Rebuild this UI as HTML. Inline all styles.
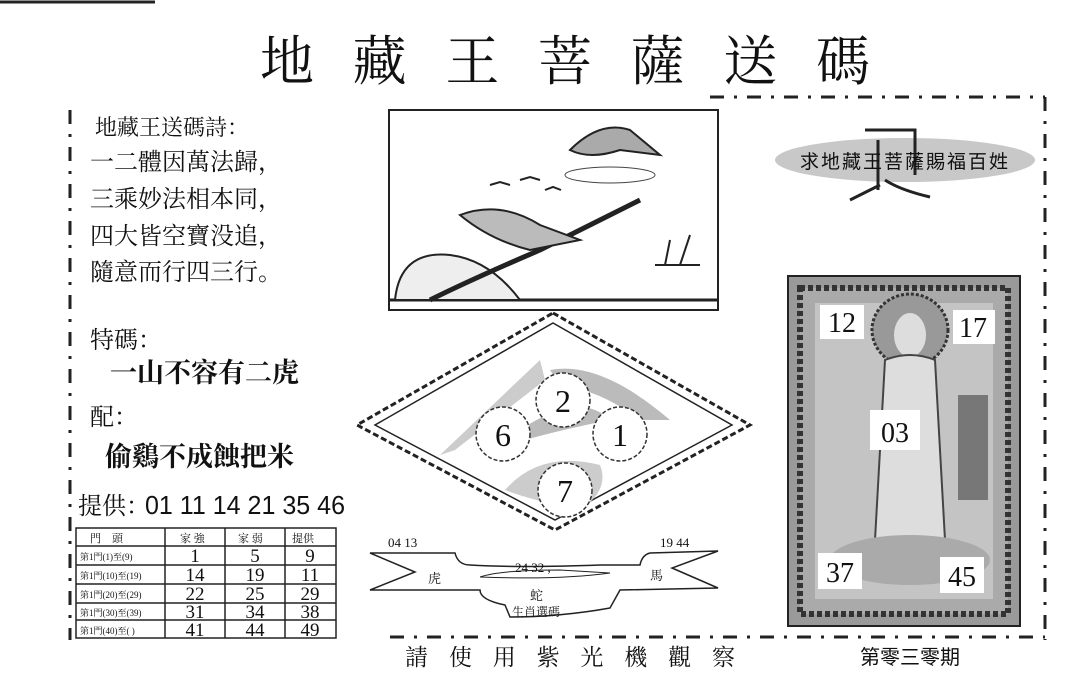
<!DOCTYPE html>
<html><head><meta charset="utf-8"><style>
html,body{margin:0;padding:0;background:#fff;}
svg{display:block;}
text{font-family:"Liberation Serif","Noto Serif CJK SC","Noto Sans CJK TC",serif;fill:#111;}
.s{font-family:"Liberation Sans","Noto Sans CJK TC",sans-serif;}
</style></head><body>
<svg width="1080" height="698" viewBox="0 0 1080 698" xmlns="http://www.w3.org/2000/svg">
<rect width="1080" height="698" fill="#fff"/>
<line x1="0" y1="2" x2="155" y2="2" stroke="#222" stroke-width="3"/>
<!-- title -->
<text x="565" y="80" font-size="54" text-anchor="middle" textLength="610" lengthAdjust="spacing" fill="#444">地藏王菩薩送碼</text>
<!-- borders -->
<g stroke="#222" stroke-width="3" fill="none">
<line x1="70" y1="110" x2="70" y2="640" stroke-dasharray="14,10,3,10"/>
<line x1="710" y1="97" x2="1045" y2="97" stroke-dasharray="14,10,3,10"/>
<line x1="1045" y1="97" x2="1045" y2="640" stroke-dasharray="14,10,3,10"/>
<line x1="390" y1="637" x2="1045" y2="637" stroke-dasharray="14,10,3,10"/>
</g>
<!-- poem -->
<g font-size="24">
<text x="95" y="135" font-size="22">地藏王送碼詩：</text>
<text x="90" y="170">一二體因萬法歸，</text>
<text x="90" y="207">三乘妙法相本同，</text>
<text x="90" y="244">四大皆空寶没追，</text>
<text x="90" y="280">隨意而行四三行。</text>
<text x="90" y="348">特碼：</text>
<text x="110" y="382" font-size="27" font-weight="bold">一山不容有二虎</text>
<text x="90" y="425">配：</text>
<text x="105" y="466" font-size="27" font-weight="bold">偷鷄不成蝕把米</text>
<text x="78" y="514">提供：</text>
</g>
<text x="145" y="514" font-size="26" class="s" textLength="200" lengthAdjust="spacingAndGlyphs">01 11 14 21 35 46</text>
<!-- table -->
<g stroke="#222" stroke-width="1.5" fill="none">
<rect x="76" y="528" width="260" height="110"/>
<line x1="76" y1="546" x2="336" y2="546"/>
<line x1="76" y1="565" x2="336" y2="565"/>
<line x1="76" y1="584" x2="336" y2="584"/>
<line x1="76" y1="603" x2="336" y2="603"/>
<line x1="76" y1="620" x2="336" y2="620"/>
<line x1="165" y1="528" x2="165" y2="638"/>
<line x1="225" y1="528" x2="225" y2="638"/>
<line x1="285" y1="528" x2="285" y2="638"/>
</g>
<g font-size="11" class="s">
<text x="90" y="542">門　頭</text><text x="180" y="542">家 強</text><text x="238" y="542">家 弱</text><text x="292" y="542">提供</text>
<text x="80" y="560" font-size="9">第1門(1)至(9)</text>
<text x="80" y="579" font-size="9">第1門(10)至(19)</text>
<text x="80" y="598" font-size="9">第1門(20)至(29)</text>
<text x="80" y="616" font-size="9">第1門(30)至(39)</text>
<text x="80" y="634" font-size="9">第1門(40)至(  )</text>
</g>
<g font-size="19" text-anchor="middle">
<text x="195" y="562">1</text><text x="255" y="562">5</text><text x="310" y="562">9</text>
<text x="195" y="581">14</text><text x="255" y="581">19</text><text x="310" y="581">11</text>
<text x="195" y="600">22</text><text x="255" y="600">25</text><text x="310" y="600">29</text>
<text x="195" y="618">31</text><text x="255" y="618">34</text><text x="310" y="618">38</text>
<text x="195" y="636">41</text><text x="255" y="636">44</text><text x="310" y="636">49</text>
</g>
<!-- bird picture -->
<rect x="389" y="110" width="329" height="200" fill="#fff" stroke="#222" stroke-width="2"/>
<line x1="389" y1="300" x2="718" y2="300" stroke="#222" stroke-width="3"/>
<path d="M395 300 Q400 250 450 255 Q490 260 520 300 Z" fill="#eee" stroke="#222" stroke-width="2"/>
<path d="M430 300 Q470 280 540 250 L600 220 L640 200" stroke="#222" stroke-width="5" fill="none"/>
<path d="M460 215 Q500 200 540 225 L580 240 L530 250 Q490 240 460 215Z" fill="#bbb" stroke="#222" stroke-width="2"/>
<path d="M570 150 Q600 120 630 130 L660 155 L620 150 Q590 160 570 150Z" fill="#aaa" stroke="#222" stroke-width="2"/>
<ellipse cx="610" cy="175" rx="45" ry="8" fill="none" stroke="#444"/>
<path d="M655 265 L700 265 M665 265 L670 240 M680 265 L690 235" stroke="#222" stroke-width="2"/>
<path d="M490 185 l10 -3 l10 3 M520 180 l10 -3 l10 3 M545 190 l8 -3 l8 3" stroke="#222" stroke-width="2" fill="none"/>
<!-- diamond -->
<g fill="none" stroke="#222">
<polygon points="553,313 750,425 555,530 357,425" stroke-width="3" stroke-dasharray="6,3"/>
<polygon points="553,323 732,425 555,520 375,425" stroke-width="1.5"/>
</g>
<path d="M440 455 L540 360 L545 380 L455 450Z" fill="#ccc"/>
<path d="M550 370 Q600 360 670 420 L640 420 Q600 390 560 385Z" fill="#bbb"/>
<path d="M520 430 Q580 390 610 420 Q560 430 525 440Z" fill="#bbb"/>
<path d="M505 490 Q540 450 600 465 Q610 490 580 510 Q530 500 505 490Z" fill="#ccc"/>
<g fill="#fff" stroke="#333" stroke-width="1.5" stroke-dasharray="4,2">
<circle cx="563" cy="400" r="27"/><circle cx="503" cy="434" r="27"/><circle cx="620" cy="434" r="27"/><circle cx="565" cy="490" r="27"/>
</g>
<g font-size="32" class="s" text-anchor="middle" fill="#222">
<text x="563" y="412">2</text><text x="503" y="446">6</text><text x="620" y="446">1</text><text x="565" y="502">7</text>
</g>
<!-- ribbon -->
<path d="M370 553 L455 553 Q458 565 470 565 Q520 568 600 565 L640 565 Q642 555 650 553 L718 551 L672 568 L718 588 L620 590 L610 608 Q560 617 510 617 L505 605 Q480 600 480 590 L370 590 L415 572 Z" fill="#fff" stroke="#222" stroke-width="1.5"/>
<path d="M480 577 Q500 570 560 570 L610 573 Q560 580 480 577" fill="none" stroke="#222"/>
<g class="s" font-size="13">
<text x="388" y="547">04 13</text><text x="660" y="547">19 44</text>
<text x="515" y="572">24 32 ,</text>
<text x="428" y="583">虎</text><text x="650" y="580">馬</text>
<text x="530" y="600">蛇</text><text x="512" y="616" font-size="12">生肖選碼</text>
</g>
<text x="570" y="665" font-size="23" text-anchor="middle" textLength="330" lengthAdjust="spacing" fill="#333">請使用紫光機觀察</text>
<text x="910" y="664" font-size="20" text-anchor="middle" class="s">第零三零期</text>
<!-- top right oval -->
<ellipse cx="905" cy="160" rx="130" ry="22" fill="#c8c8c8"/>
<path d="M865 130 L915 130 L915 175 M878 140 L878 190 M880 185 Q860 195 850 200 M885 180 Q900 190 930 197" stroke="#222" stroke-width="3" fill="none"/>
<text x="905" y="168" font-size="19" text-anchor="middle" class="s" letter-spacing="2">求地藏王菩薩賜福百姓</text>
<!-- buddha panel -->
<rect x="788" y="276" width="232" height="350" fill="#9a9a9a" stroke="#222" stroke-width="2"/>
<rect x="800" y="288" width="208" height="326" fill="#aaa" stroke="#333" stroke-width="6" stroke-dasharray="5,3"/>
<rect x="815" y="303" width="178" height="296" fill="#c4c4c4"/>
<ellipse cx="910" cy="330" rx="38" ry="36" fill="#999" stroke="#333" stroke-width="3" stroke-dasharray="3,2"/>
<ellipse cx="910" cy="335" rx="16" ry="22" fill="#ddd"/>
<path d="M885 360 Q910 350 935 360 L945 540 L875 540 Z" fill="#ddd" stroke="#444" stroke-width="2"/>
<ellipse cx="910" cy="560" rx="80" ry="25" fill="#aaa"/>
<rect x="958" y="395" width="30" height="105" fill="#777"/>
<g fill="#fff"><rect x="820" y="305" width="44" height="34"/><rect x="953" y="310" width="42" height="34"/><rect x="870" y="410" width="50" height="40"/><rect x="818" y="553" width="44" height="36"/><rect x="940" y="557" width="44" height="36"/></g>
<g class="s" font-size="28" text-anchor="middle" fill="#111">
<text x="842" y="332">12</text><text x="973" y="337">17</text><text x="895" y="442">03</text><text x="840" y="582">37</text><text x="962" y="586">45</text>
</g>
</svg>
</body></html>
